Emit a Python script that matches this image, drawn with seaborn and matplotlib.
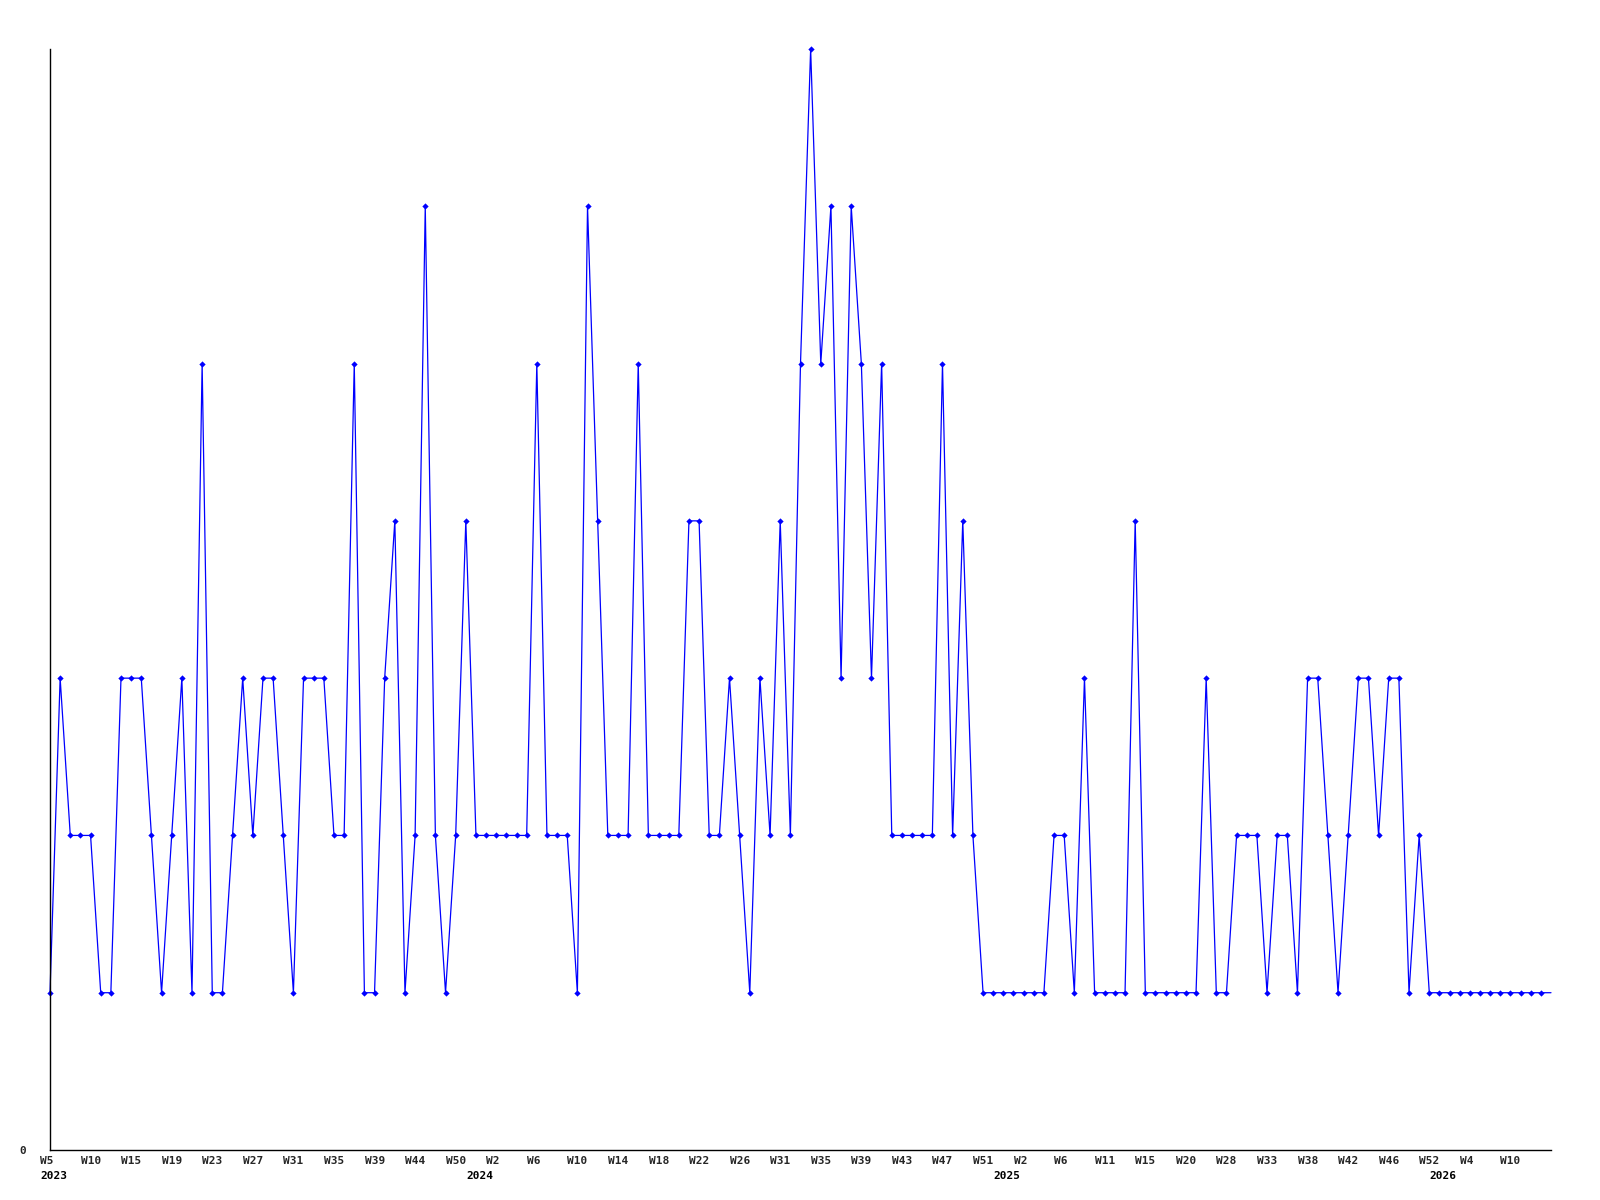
import numpy as np
import pandas as pd
import matplotlib
matplotlib.use("Agg")
import matplotlib.pyplot as plt
import matplotlib.transforms as mtransforms
import seaborn as sns

# ---- data ----
values = [
    1, 3, 2, 2, 2, 1, 1, 3, 3, 3, 2, 1, 2, 3, 1, 5, 1, 1, 2, 3, 2, 3, 3, 2, 1,
    3, 3, 3, 2, 2, 5, 1, 1, 3, 4, 1, 2, 6, 2, 1, 2, 4, 2, 2, 2, 2, 2, 2, 5, 2,
    2, 2, 1, 6, 4, 2, 2, 2, 5, 2, 2, 2, 2, 4, 4, 2, 2, 3, 2, 1, 3, 2, 4, 2, 5,
    7, 5, 6, 3, 6, 5, 3, 5, 2, 2, 2, 2, 2, 5, 2, 4, 2, 1, 1, 1, 1, 1, 1, 1, 2,
    2, 1, 3, 1, 1, 1, 1, 4, 1, 1, 1, 1, 1, 1, 3, 1, 1, 2, 2, 2, 1, 2, 2, 1, 3,
    3, 2, 1, 2, 3, 3, 2, 3, 3, 1, 2, 1,
    1, 1, 1, 1, 1, 1, 1, 1, 1, 1, 1, 1,
]
tick_labels = [
    "W5", "W10", "W15", "W19", "W23", "W27", "W31", "W35", "W39", "W44", "W50",
    "W2", "W6", "W10", "W14", "W18", "W22", "W26", "W31", "W35", "W39", "W43", "W47", "W51",
    "W2", "W6", "W11", "W15", "W20", "W28", "W33", "W38", "W42", "W46", "W52",
    "W4", "W10",
]
tick_step = 4
year_labels = ["2023", "2024", "2025", "2026"]
year_index = [0, 42, 94, 137]

df = pd.DataFrame({"idx": np.arange(len(values)), "value": values})

sns.set_style("white")
plt.rcParams["font.family"] = ["DejaVu Sans Mono", "DejaVu Sans"]

fig = plt.figure(figsize=(16, 12), dpi=100)
ax = fig.add_axes([50 / 1600, 1 - 1150 / 1200, 1501 / 1600, 1101 / 1200])

sns.lineplot(data=df, x="idx", y="value", ax=ax, color="#0000ff",
             linewidth=0.9, marker="D", markersize=3.2,
             markeredgewidth=0, markevery=list(range(len(values) - 1)),
             clip_on=False)

ax.set_xlim(0, len(values) - 1)
ax.set_ylim(0, 7)
ax.set_xlabel("")
ax.set_ylabel("")

for s in ["top", "right"]:
    ax.spines[s].set_visible(False)
for s in ["left", "bottom"]:
    ax.spines[s].set_color("black")
    ax.spines[s].set_linewidth(1.0)

ticks = list(range(0, tick_step * len(tick_labels), tick_step))
ax.set_xticks(ticks)
ax.set_xticklabels(tick_labels, fontsize=8, fontweight="bold")
ax.tick_params(axis="x", length=0, pad=4)
offset = mtransforms.ScaledTranslation(-10 / 100, 0, fig.dpi_scale_trans)
for lbl in ax.get_xticklabels():
    lbl.set_horizontalalignment("left")
    lbl.set_transform(lbl.get_transform() + offset)

ax.set_yticks([0])
ax.set_yticklabels(["0"], fontsize=8, fontweight="bold")
ax.tick_params(axis="y", length=0, pad=17)

trans = mtransforms.blended_transform_factory(ax.transData, ax.transAxes) + offset
for lab, xi in zip(year_labels, year_index):
    ax.text(xi, -0.024, lab, transform=trans, ha="left", va="center",
            fontsize=8, fontweight="bold", color="black")

fig.savefig("out.png", dpi=100, facecolor="white")
